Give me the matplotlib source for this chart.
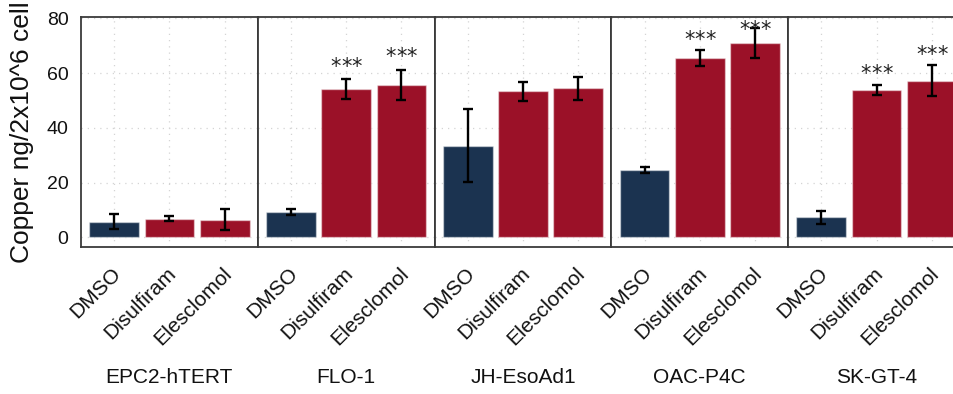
import matplotlib
matplotlib.use("Agg")
import matplotlib.pyplot as plt
import numpy as np

plt.rcParams['font.family'] = ['Liberation Sans', 'DejaVu Sans']

# copper content per cell line and treatment (mean, error)
cell_lines = ['EPC2-hTERT', 'FLO-1', 'JH-EsoAd1', 'OAC-P4C', 'SK-GT-4']
treatments = ['DMSO', 'Disulfiram', 'Elesclomol']
means = [
    [5.7, 6.8, 6.5],
    [9.2, 54.2, 55.7],
    [33.5, 53.3, 54.4],
    [24.7, 65.5, 71.1],
    [7.3, 53.8, 57.3],
]
errors = [
    [2.7, 0.95, 3.7],
    [1.0, 3.8, 5.6],
    [13.4, 3.45, 4.1],
    [1.15, 2.8, 5.5],
    [2.4, 1.7, 5.8],
]
# significance marks: (treatment index, height of the star centre)
stars = [
    [],
    [(1, 64.4), (2, 68.1)],
    [],
    [(1, 74.5), (2, 78.2)],
    [(1, 62.1), (2, 68.8)],
]

navy = '#1b3350'
red = '#9b1128'
bar_colors = [navy, red, red]

W, H = 954, 394
fig = plt.figure(figsize=(W / 100, H / 100), dpi=100)

left_px, panel_w = 81, 176.8
top_px, bot_px = 17.3, 247
x = np.arange(1, len(treatments) + 1)
star_size = 15
star_step = 7.6  # points between neighbouring asterisks

for i, cl in enumerate(cell_lines):
    ax = fig.add_axes([(left_px + i * panel_w) / W, (H - bot_px) / H,
                       panel_w / W, (bot_px - top_px) / H])
    ax.bar(x, means[i], width=0.9, color=bar_colors,
           edgecolor=(1, 1, 1, 0.45), linewidth=1.0, zorder=2)
    ax.errorbar(x, means[i], yerr=errors[i], fmt='none', ecolor='black',
                elinewidth=1.7, capsize=3.8, capthick=1.7, zorder=3)
    for j, yy in stars[i]:
        # asterisks sit high in the em box, so anchor on the baseline
        for k in (-1, 0, 1):
            ax.annotate('*', xy=(x[j], yy),
                        xytext=(k * star_step, -0.59 * star_size),
                        textcoords='offset points', ha='center',
                        va='baseline', fontsize=star_size,
                        family='DejaVu Sans', color='#222222', zorder=4,
                        annotation_clip=False)

    ax.set_xlim(0.4, 3.6)
    ax.set_ylim(-3.5, 80.4)
    ax.set_yticks([0, 20, 40, 60, 80])
    ax.set_xticks(x)
    ax.set_xticklabels([])
    for xi, t in zip(x, treatments):
        ax.annotate(t, xy=(xi, 0), xycoords=ax.get_xaxis_transform(),
                    xytext=(7.6, -12), textcoords='offset points',
                    rotation=45, ha='right', va='top', fontsize=15,
                    color='#111111')
    ax.tick_params(axis='both', length=0)
    ax.tick_params(axis='y', pad=9, labelsize=14, labelcolor='#111111')
    if i > 0:
        ax.tick_params(axis='y', labelleft=False)

    ax.grid(True, color='#d4d4d4', linestyle=(0, (1, 4)), linewidth=0.9,
            zorder=0)
    ax.set_axisbelow(True)
    for side in ax.spines.values():
        side.set_color('#3a3a3a')
        side.set_linewidth(1.3)

    ax.text(0.5, -0.569, cl, transform=ax.transAxes, ha='center',
            va='center', fontsize=15, color='#111111')

fig.text(22 / W, 1 - 132 / H, 'Copper ng/2x10^6 cell', rotation=90,
         ha='center', va='center', fontsize=19, color='#111111')

fig.savefig('out.png', dpi=100)
